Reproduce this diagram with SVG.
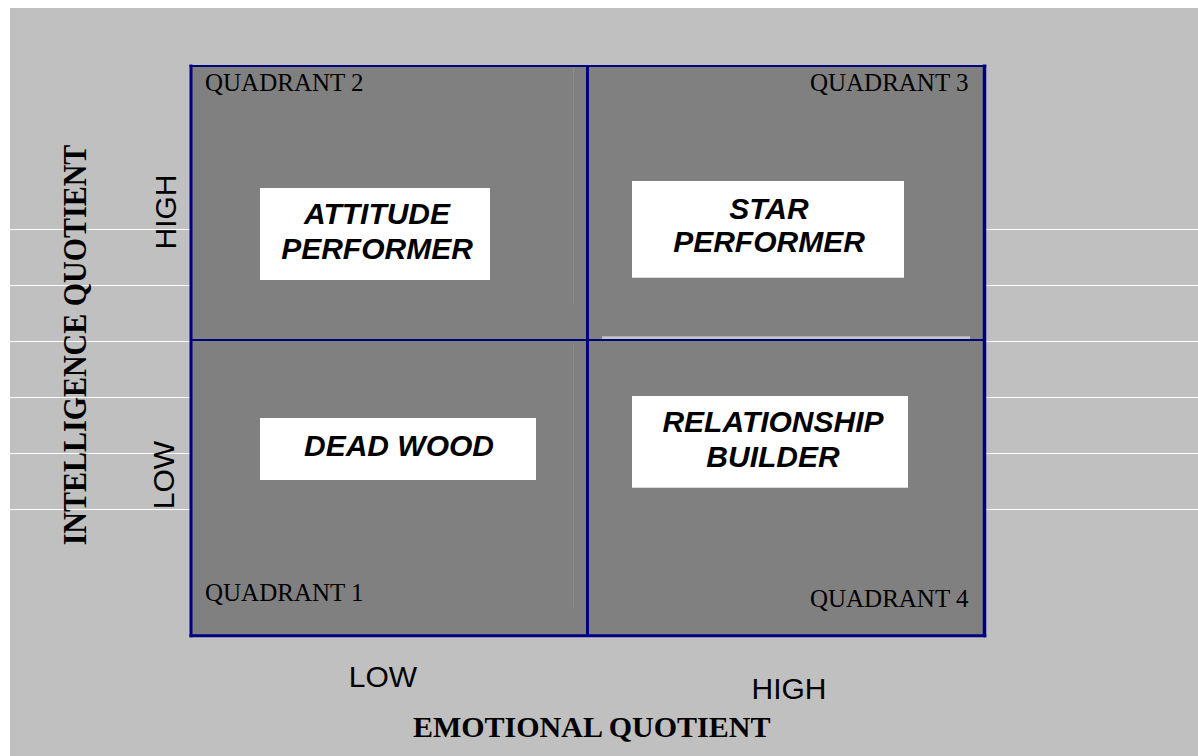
<svg xmlns="http://www.w3.org/2000/svg" width="1198" height="756" viewBox="0 0 1198 756">
  <style>
    .grid { stroke: #000080; fill: none; }
    .rule { stroke: #ffffff; stroke-width: 1.2; }
    .quad { font-family: "Liberation Serif", "Times New Roman", serif; font-size: 25px; fill: #000; }
    .box { fill: #ffffff; }
    .lbl { font-family: "Liberation Sans", Arial, sans-serif; font-size: 30px; font-weight: bold; font-style: italic; fill: #000; text-anchor: middle; }
    .axv { font-family: "Liberation Sans", Arial, sans-serif; font-size: 30px; fill: #000; text-anchor: middle; }
    .title { font-family: "Liberation Serif", "Times New Roman", serif; font-size: 30px; font-weight: bold; fill: #000; text-anchor: middle; }
  </style>
  <rect x="0" y="0" width="1198" height="756" fill="#ffffff"/>
  <rect x="10" y="8" width="1188" height="748" fill="#c0c0c0"/>
  <g id="rules">
    <line class="rule" x1="10" y1="229.5" x2="190" y2="229.5"/>
    <line class="rule" x1="10" y1="285.5" x2="190" y2="285.5"/>
    <line class="rule" x1="10" y1="341.5" x2="190" y2="341.5"/>
    <line class="rule" x1="10" y1="397.5" x2="190" y2="397.5"/>
    <line class="rule" x1="10" y1="453.5" x2="190" y2="453.5"/>
    <line class="rule" x1="10" y1="509.5" x2="190" y2="509.5"/>
    <line class="rule" x1="985" y1="229.5" x2="1198" y2="229.5"/>
    <line class="rule" x1="985" y1="285.5" x2="1198" y2="285.5"/>
    <line class="rule" x1="985" y1="341.5" x2="1198" y2="341.5"/>
    <line class="rule" x1="985" y1="397.5" x2="1198" y2="397.5"/>
    <line class="rule" x1="985" y1="453.5" x2="1198" y2="453.5"/>
    <line class="rule" x1="985" y1="509.5" x2="1198" y2="509.5"/>
  </g>
  <g id="matrix">
    <rect x="191" y="66" width="793.5" height="569.7" fill="#808080"/>
    <line x1="573.5" y1="68" x2="573.5" y2="304" stroke="#8c8c8c" stroke-width="1"/>
    <line x1="573.5" y1="343" x2="573.5" y2="607" stroke="#8c8c8c" stroke-width="1"/>
    <rect x="602" y="336.3" width="368" height="2.8" fill="#c4c4c4"/>
    <line class="grid" x1="191" y1="64.5" x2="191" y2="637.3" stroke-width="3"/>
    <line class="grid" x1="984.5" y1="64.5" x2="984.5" y2="637.3" stroke-width="3.5"/>
    <line class="grid" x1="189.5" y1="66" x2="986.3" y2="66" stroke-width="2"/>
    <line class="grid" x1="189.5" y1="635.7" x2="986.3" y2="635.7" stroke-width="3"/>
    <line class="grid" x1="587.5" y1="66" x2="587.5" y2="635.7" stroke-width="3"/>
    <line class="grid" x1="191" y1="340" x2="984.5" y2="340" stroke-width="2"/>
  </g>
  <g id="q2">
    <text class="quad" x="205" y="90.5">QUADRANT 2</text>
  </g>
  <g id="q3">
    <text class="quad" x="968.5" y="90.5" text-anchor="end">QUADRANT 3</text>
  </g>
  <g id="q1">
    <text class="quad" x="205" y="600.5">QUADRANT 1</text>
  </g>
  <g id="q4">
    <text class="quad" x="968.5" y="607" text-anchor="end">QUADRANT 4</text>
  </g>
  <g id="attitude-performer">
    <rect class="box" x="260" y="188" width="230" height="92"/>
    <text class="lbl" x="377" y="224.3">ATTITUDE</text>
    <text class="lbl" x="377" y="259.3">PERFORMER</text>
  </g>
  <g id="star-performer">
    <rect class="box" x="632" y="181" width="272" height="96.7"/>
    <text class="lbl" x="769" y="219.3">STAR</text>
    <text class="lbl" x="769" y="252.3">PERFORMER</text>
  </g>
  <g id="dead-wood">
    <rect class="box" x="260" y="418" width="276" height="62"/>
    <text class="lbl" x="399" y="455.7">DEAD WOOD</text>
  </g>
  <g id="relationship-builder">
    <rect class="box" x="632" y="396" width="276" height="91.7"/>
    <text class="lbl" x="773" y="432.3">RELATIONSHIP</text>
    <text class="lbl" x="773" y="467.3">BUILDER</text>
  </g>
  <g id="axis-iq">
    <text class="title" transform="translate(86,345) rotate(-90) scale(1,1.1)" x="0" y="0">INTELLIGENCE QUOTIENT</text>
    <text class="axv" transform="translate(176,212) rotate(-90)" x="0" y="0">HIGH</text>
    <text class="axv" transform="translate(174,475) rotate(-90)" x="0" y="0">LOW</text>
  </g>
  <g id="axis-eq">
    <text class="axv" x="383" y="686.5">LOW</text>
    <text class="axv" x="789" y="699">HIGH</text>
    <text class="title" x="591.7" y="737.3">EMOTIONAL QUOTIENT</text>
  </g>
  <g id="connectors"></g>
</svg>
